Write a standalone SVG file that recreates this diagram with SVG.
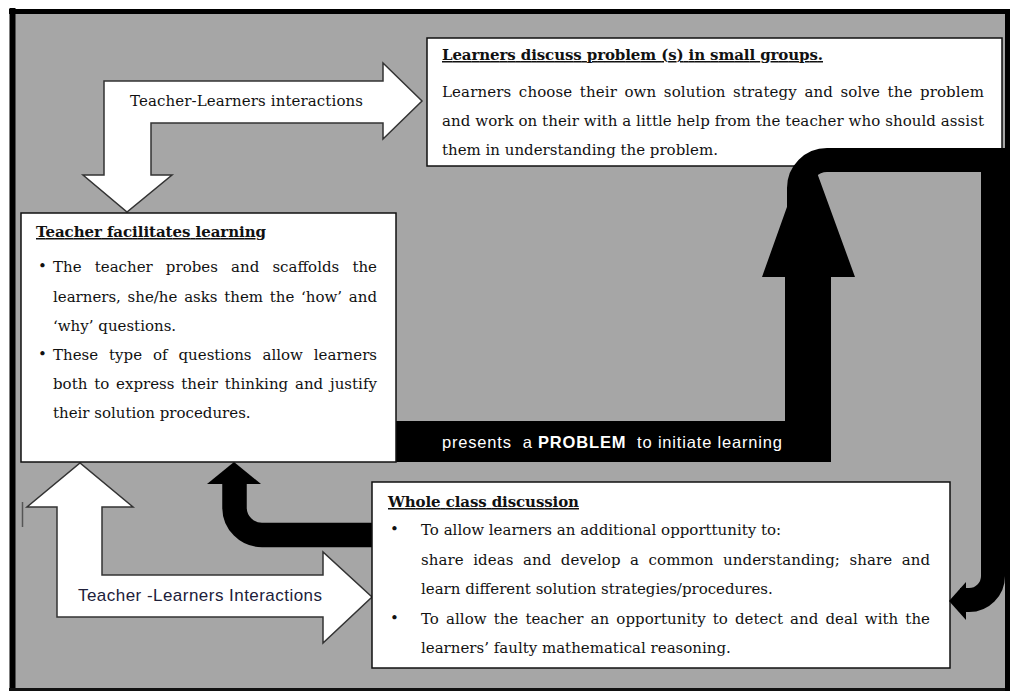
<svg xmlns="http://www.w3.org/2000/svg" width="1010" height="691" viewBox="0 0 1010 691">
<style>
.t{font-family:"DejaVu Serif","Liberation Serif",serif;font-size:15px;fill:#111}
.h{font-weight:bold;text-decoration:underline}
.s{font-family:"Liberation Sans",Arial,sans-serif}
.box{fill:#fff;stroke:#111;stroke-width:1.5}
.warrow{fill:#fff;stroke:#333;stroke-width:1.5;stroke-linejoin:miter}
.band{fill:none;stroke:#000}
</style>
<rect x="0" y="0" width="1010" height="691" fill="#fff"/>
<g id="frame">
<rect x="12" y="11" width="996" height="677" fill="#a6a6a6"/>
<line x1="12.5" y1="8" x2="12.5" y2="691" stroke="#000" stroke-width="6"/>
<line x1="9" y1="11.5" x2="1010" y2="11.5" stroke="#000" stroke-width="5"/>
<line x1="9" y1="689.5" x2="1010" y2="689.5" stroke="#111" stroke-width="3"/>
<line x1="1007.5" y1="9" x2="1007.5" y2="691" stroke="#000" stroke-width="5"/>
<line x1="22.5" y1="502" x2="22.5" y2="527" stroke="#555" stroke-width="1.5"/>
</g>
<g id="connectors">
<path id="problem-arrow" d="M390,421 H785 V277 H762 L808,148 L855,277 H831 V462 H390 Z" fill="#000"/>
<path id="whole-to-teacher" class="band" stroke-width="24.5" d="M380,535 H262 A27.5,27.5 0 0 1 234.5,507.5 V482"/>
<polygon points="207,484 234,462 261,484" fill="#000"/>
<path id="top-interactions" class="warrow" d="M104,81 H383 V63 L422,101 L383,139 V123 H151 V175 H172 L127,212 L83,175 H104 Z"/>
<text class="t" x="130" y="106" textLength="233">Teacher-Learners interactions</text>
<path id="bottom-interactions" class="warrow" d="M57,617 V507 H27 L80,463 L133,507 H102 V575 H323 V552 L372,597 L323,643 V617 Z"/>
<text class="s" x="78" y="601" font-size="17" fill="#20203a" textLength="244">Teacher -Learners Interactions</text>
</g>
<g id="node-groups">
<rect class="box" x="427" y="38" width="575" height="128"/>
<text class="t h" x="442" y="60" textLength="381">Learners discuss problem (s) in small groups.</text>
<text class="t" x="442" y="96.5" word-spacing="2.6" textLength="542">Learners choose their own solution strategy and solve the problem</text>
<text class="t" x="442" y="126" textLength="542">and work on their with a little help from the teacher who should assist</text>
<text class="t" x="442" y="155">them in understanding the problem.</text>
</g>
<g id="node-teacher">
<rect class="box" x="21" y="213" width="375" height="249"/>
<text class="t h" x="36" y="237" textLength="230">Teacher facilitates learning</text>
<text class="t" x="38" y="271" font-size="11">•</text>
<text class="t" x="53" y="272" word-spacing="8.4" textLength="324">The teacher probes and scaffolds the</text>
<text class="t" x="53" y="301.5" word-spacing="2" textLength="324">learners, she/he asks them the ‘how’ and</text>
<text class="t" x="53" y="330.5">‘why’ questions.</text>
<text class="t" x="38" y="359" font-size="11">•</text>
<text class="t" x="53" y="359.5" word-spacing="6.2" textLength="324">These type of questions allow learners</text>
<text class="t" x="53" y="388.5" word-spacing="2" textLength="324">both to express their thinking and justify</text>
<text class="t" x="53" y="417.5">their solution procedures.</text>
</g>
<g id="problem-label">
<text class="s" x="442" y="448" font-size="16.5" fill="#fff" textLength="340" xml:space="preserve">presents  a <tspan font-weight="bold">PROBLEM</tspan>  to initiate learning</text>
</g>
<g id="node-whole-class">
<rect class="box" x="372" y="482" width="578" height="186"/>
<text class="t h" x="388" y="507" textLength="191">Whole class discussion</text>
<text class="t" x="390" y="534" font-size="11">•</text>
<text class="t" x="421" y="535">To allow learners an additional opporttunity to:</text>
<text class="t" x="421" y="564.5" word-spacing="4.7" textLength="509">share ideas and develop a common understanding; share and</text>
<text class="t" x="421" y="594">learn different solution strategies/procedures.</text>
<text class="t" x="390" y="623" font-size="11">•</text>
<text class="t" x="421" y="623.5" word-spacing="2.3" textLength="509">To allow the teacher an opportunity to detect and deal with the</text>
<text class="t" x="421" y="653">learners’ faulty mathematical reasoning.</text>
</g>
<g id="connector-loop">
<path id="groups-to-whole" class="band" stroke-width="24" d="M799,262 V188 A28,28 0 0 1 827,160 H993 V576 A24,24 0 0 1 969,600 H960"/>
<polygon points="949,601 966,582 966,620" fill="#000"/>
</g>
</svg>
